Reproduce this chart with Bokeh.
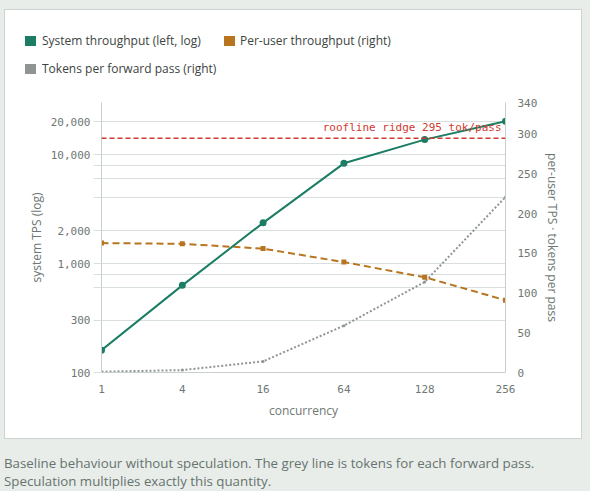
from bokeh.plotting import figure
from bokeh.models import (Range1d, LinearAxis, LinearScale, FixedTicker, Span, Label, Div)
from bokeh.layouts import column
from bokeh.embed import file_html
from bokeh.resources import INLINE

# ---------------- data ----------------
concurrency = [1, 4, 16, 64, 128, 256]
system_tps = [160, 630, 2360, 8300, 13700, 20200]      # left axis, log
per_user_tps = [163, 162, 156, 139, 120, 91]           # right axis
tokens_per_pass = [1, 3, 14, 59, 114, 221]             # right axis
ridge_tok_per_pass = 295

left_ticks = [100, 300, 600, 800, 1000, 2000, 4000, 6000, 8000, 10000, 20000]
left_labels = {100: "100", 300: "300", 1000: "1,000", 2000: "2,000",
               10000: "10,000", 20000: "20,000"}
right_ticks = [0, 50, 100, 150, 200, 250, 300, 340]

series_names = ["System throughput (left, log)", "Per-user throughput (right)",
                "Tokens per forward pass (right)"]

GREEN = "#1a7d64"
ORANGE = "#b8741f"
GREY = "#8f9592"
RED = "#d0392f"
GRID = "#d9dfdc"
AXIS = "#c9d0cc"
TICK_TXT = "#6e7773"
LEG_TXT = "#3b4440"
MONO = "DejaVu Sans Mono"
SANS = "Open Sans"

xs = list(range(len(concurrency)))

p = figure(width=576, height=349, x_range=Range1d(0, 5), y_range=Range1d(100, 30000),
           y_axis_type="log", output_backend="svg", toolbar_location=None,
           min_border_left=96, min_border_right=76, min_border_top=13, min_border_bottom=66)
p.extra_y_ranges = {"right": Range1d(0, 340)}
p.extra_y_scales = {"right": LinearScale()}
p.outline_line_color = None
p.background_fill_color = "white"
p.border_fill_color = "white"
p.xgrid.grid_line_color = None
p.ygrid.grid_line_color = GRID
p.ygrid.grid_line_width = 1

# left axis
ya = p.yaxis[0]
ya.ticker = FixedTicker(ticks=left_ticks)
ya.major_label_overrides = {k: left_labels.get(k, "") for k in left_ticks}
ya.axis_label = "system TPS (log)"
ya.axis_line_color = AXIS
ya.major_tick_line_color = GRID
ya.major_tick_out = 8
ya.major_tick_in = 0
ya.minor_tick_line_color = None
ya.major_label_standoff = 3
ya.major_label_text_font = MONO
ya.major_label_text_font_size = "11px"
ya.major_label_text_color = TICK_TXT
ya.axis_label_text_font = SANS
ya.axis_label_text_font_size = "12px"
ya.axis_label_text_font_style = "normal"
ya.axis_label_text_color = TICK_TXT
ya.axis_label_standoff = 3

# bottom axis
xa = p.xaxis[0]
xa.ticker = FixedTicker(ticks=xs)
xa.major_label_overrides = {i: str(c) for i, c in zip(xs, concurrency)}
xa.axis_label = "concurrency"
xa.axis_line_color = AXIS
xa.major_tick_line_color = None
xa.major_tick_out = 0
xa.major_tick_in = 0
xa.minor_tick_line_color = None
xa.major_label_standoff = 12
xa.major_label_text_font = MONO
xa.major_label_text_font_size = "11px"
xa.major_label_text_color = TICK_TXT
xa.axis_label_text_font = SANS
xa.axis_label_text_font_size = "12px"
xa.axis_label_text_font_style = "normal"
xa.axis_label_text_color = TICK_TXT
xa.axis_label_standoff = 6

# right axis
ra = LinearAxis(y_range_name="right", ticker=FixedTicker(ticks=right_ticks),
                axis_label="per-user TPS \u00b7 tokens per pass")
ra.axis_line_color = AXIS
ra.major_tick_line_color = None
ra.major_tick_out = 0
ra.major_tick_in = 0
ra.minor_tick_line_color = None
ra.major_label_standoff = 12
ra.major_label_text_font = MONO
ra.major_label_text_font_size = "11px"
ra.major_label_text_color = TICK_TXT
ra.axis_label_text_font = SANS
ra.axis_label_text_font_size = "12px"
ra.axis_label_text_font_style = "normal"
ra.axis_label_text_color = TICK_TXT
ra.axis_label_standoff = 4
p.add_layout(ra, "right")

# ridge line
p.add_layout(Span(location=ridge_tok_per_pass, dimension="width", y_range_name="right",
                  line_color=RED, line_width=1.5, line_dash="5 3"))
p.add_layout(Label(x=5, y=ridge_tok_per_pass, y_range_name="right",
                   text=f"roofline ridge {ridge_tok_per_pass} tok/pass",
                   text_align="right", text_baseline="bottom", x_offset=-4, y_offset=4,
                   text_font=MONO, text_font_size="11px", text_color=RED))

# tokens per pass (grey dotted)
p.line(xs, tokens_per_pass, y_range_name="right", line_color=GREY, line_width=2,
       line_dash="2 2")
p.scatter(xs, tokens_per_pass, y_range_name="right", marker="circle", size=3,
          fill_color=GREY, line_color=None)

# per-user throughput (orange dashed)
p.line(xs, per_user_tps, y_range_name="right", line_color=ORANGE, line_width=2,
       line_dash="7 4")
p.scatter(xs, per_user_tps, y_range_name="right", marker="square", size=5,
          fill_color=ORANGE, line_color=None)

# system throughput (green, log)
p.line(xs, system_tps, line_color=GREEN, line_width=2)
p.scatter(xs, system_tps, marker="circle", size=7, fill_color=GREEN, line_color=None)

# legend (HTML, above the plot, inside the card)
def sw(left, top, color):
    return (f'<span style="position:absolute;left:{left}px;top:{top}px;width:11px;'
            f'height:10px;background:{color};"></span>')


def lab(left, top, text):
    return (f'<span style="position:absolute;left:{left}px;top:{top}px;line-height:16px;'
            f'white-space:nowrap;">{text}</span>')


legend_html = (
    f'<div style="position:relative;width:576px;height:78px;font-family:\'{SANS}\';'
    f'font-size:12px;color:{LEG_TXT};">'
    + sw(20, 26, GREEN) + lab(37, 23, series_names[0])
    + sw(219, 26, ORANGE) + lab(235, 23, series_names[1])
    + sw(20, 54, GREY) + lab(37, 51, series_names[2])
    + '</div>')
legend_div = Div(text=legend_html, width=576, height=79, margin=0)

card = column(legend_div, p, spacing=0, margin=(9, 0, 0, 4),
              styles={"border": "1px solid #cdd4d0", "background-color": "white"})

caption = Div(
    text="Baseline behaviour without speculation. The grey line is tokens for each forward pass.<br>"
         "Speculation multiplies exactly this quantity.",
    width=580, height=52, margin=(0, 0, 0, 4),
    styles={"font-family": SANS, "font-size": "13.3px", "line-height": "18px",
            "color": "#67736e", "padding-top": "15px"})

layout = column(card, caption, spacing=0, width=590,
                styles={"background-color": "#e8edea"})

open("out.html", "w").write(file_html(layout, INLINE, "chart"))
